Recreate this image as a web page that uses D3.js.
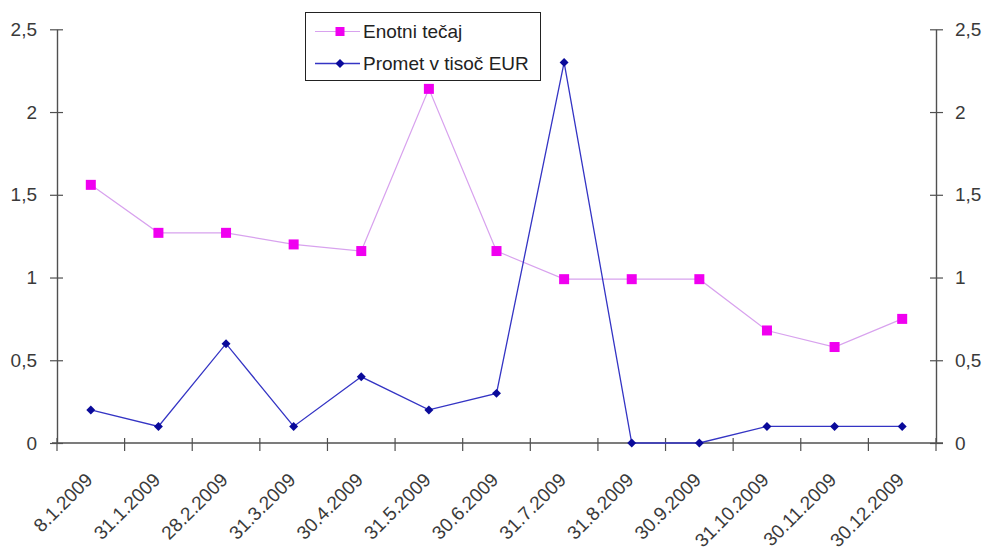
<!DOCTYPE html>
<html>
<head>
<meta charset="utf-8">
<script src="https://cdn.jsdelivr.net/npm/d3@7/dist/d3.min.js"></script>
<style>
  html, body { margin: 0; padding: 0; background: #fff; }
  svg { display: block; font-family: "Liberation Sans", Arial, sans-serif; }
</style>
</head>
<body>
<svg id="chart" width="987" height="552"></svg>
<script>
// Dates of the observations
const dates = ["8.1.2009", "31.1.2009", "28.2.2009", "31.3.2009", "30.4.2009", "31.5.2009",
  "30.6.2009", "31.7.2009", "31.8.2009", "30.9.2009", "31.10.2009", "30.11.2009", "30.12.2009"];
// Unit price
const enotniTecaj = [1.56, 1.27, 1.27, 1.20, 1.16, 2.14, 1.16, 0.99, 0.99, 0.99, 0.68, 0.58, 0.75];
// Turnover in thousand EUR
const promet = [0.2, 0.1, 0.6, 0.1, 0.4, 0.2, 0.3, 2.3, 0, 0, 0.1, 0.1, 0.1];
// Shared value ticks for both vertical axes
const yTicks = [0, 0.5, 1, 1.5, 2, 2.5];
const seriesNames = ["Enotni tečaj", "Promet v tisoč EUR"];

const svg = d3.select("#chart");
const plotLeft = 57, plotRight = 936, plotTop = 29.3, plotBottom = 443;

const x = d3.scaleBand().domain(dates).range([plotLeft, plotRight]);
const y = d3.scaleLinear().domain([0, 2.5]).range([plotBottom, plotTop]);
const cx = d => x(d) + x.bandwidth() / 2;

const axisColor = "#505050";
const textColor = "#3a3a3a";
const fs = "19px";
const fontFam = "Liberation Sans, Arial, sans-serif";
const fmt = d => d3.format("")(d).replace(".", ",");

// Left axis
const gL = svg.append("g").attr("transform", `translate(${plotLeft},0)`)
  .call(d3.axisLeft(y).tickValues(yTicks).tickSize(0).tickPadding(20).tickFormat(fmt));
gL.select(".domain").attr("stroke", axisColor).attr("stroke-width", 1.4);
gL.selectAll(".tick line").remove();
gL.selectAll(".tick").append("line").attr("x1", -7).attr("x2", 6)
  .attr("stroke", axisColor).attr("stroke-width", 1.2);
gL.selectAll("text").attr("fill", textColor).style("font-size", fs).style("font-family", fontFam);

// Right axis
const gR = svg.append("g").attr("transform", `translate(${plotRight},0)`)
  .call(d3.axisRight(y).tickValues(yTicks).tickSize(0).tickPadding(19).tickFormat(fmt));
gR.select(".domain").attr("stroke", axisColor).attr("stroke-width", 1.4);
gR.selectAll(".tick line").remove();
gR.selectAll(".tick").append("line").attr("x1", -6).attr("x2", 7)
  .attr("stroke", axisColor).attr("stroke-width", 1.2);
gR.selectAll("text").attr("fill", textColor).style("font-size", fs).style("font-family", fontFam);

// Bottom axis with ticks at band boundaries
const gB = svg.append("g").attr("transform", `translate(0,${plotBottom})`);
gB.append("line").attr("x1", plotLeft - 5).attr("x2", plotRight + 7)
  .attr("stroke", axisColor).attr("stroke-width", 1.4);
const boundaries = dates.map(d => x(d)).concat([plotRight]);
gB.selectAll("line.tk").data(boundaries).join("line").attr("class", "tk")
  .attr("x1", d => d).attr("x2", d => d).attr("y1", -5).attr("y2", 8)
  .attr("stroke", axisColor).attr("stroke-width", 1.2);
gB.selectAll("text").data(dates).join("text")
  .attr("transform", d => `translate(${cx(d) + 3},${38}) rotate(-45)`)
  .attr("text-anchor", "end")
  .attr("fill", textColor)
  .style("font-size", fs)
  .text(d => d);

// Series lines
const line = vals => d3.line().x((v, i) => cx(dates[i])).y(v => y(v))(vals);

const lineColor1 = "#D8A2EE", markColor1 = "#F000F0";
const lineColor2 = "#3434C4", markColor2 = "#0A0A9A";

svg.append("path").attr("d", line(enotniTecaj))
  .attr("fill", "none").attr("stroke", lineColor1).attr("stroke-width", 1.2);
svg.append("path").attr("d", line(promet))
  .attr("fill", "none").attr("stroke", lineColor2).attr("stroke-width", 1.3);

// Markers: squares for unit price, diamonds for turnover
svg.selectAll("rect.m1").data(enotniTecaj).join("rect").attr("class", "m1")
  .attr("x", (v, i) => cx(dates[i]) - 5).attr("y", v => y(v) - 5)
  .attr("width", 10).attr("height", 10).attr("fill", markColor1);
const squareDiamond = {
  draw(ctx, size) {
    const r = Math.sqrt(size / 2);
    ctx.moveTo(0, -r); ctx.lineTo(r, 0); ctx.lineTo(0, r); ctx.lineTo(-r, 0); ctx.closePath();
  }
};
const diamond = d3.symbol().type(squareDiamond).size(40);
svg.selectAll("path.m2").data(promet).join("path").attr("class", "m2")
  .attr("d", diamond)
  .attr("transform", (v, i) => `translate(${cx(dates[i])},${y(v)})`)
  .attr("fill", markColor2);

// Legend
const lg = svg.append("g");
lg.append("rect").attr("x", 305.5).attr("y", 12.5).attr("width", 235).attr("height", 68)
  .attr("fill", "#fff").attr("stroke", "#222").attr("stroke-width", 1);
const ly = [31.5, 63.5];
lg.append("line").attr("x1", 315).attr("x2", 360).attr("y1", ly[0]).attr("y2", ly[0])
  .attr("stroke", lineColor1).attr("stroke-width", 1.2);
lg.append("rect").attr("x", 335.5).attr("y", ly[0] - 4.5).attr("width", 9).attr("height", 9).attr("fill", markColor1);
lg.append("line").attr("x1", 315).attr("x2", 360).attr("y1", ly[1]).attr("y2", ly[1])
  .attr("stroke", lineColor2).attr("stroke-width", 1.3);
lg.append("path").attr("d", diamond).attr("transform", `translate(340,${ly[1]})`).attr("fill", markColor2);
lg.selectAll("text").data(seriesNames).join("text")
  .attr("x", 363).attr("y", (d, i) => ly[i] + 6.5)
  .attr("fill", "#222").style("font-size", fs)
  .text(d => d);
</script>
</body>
</html>
